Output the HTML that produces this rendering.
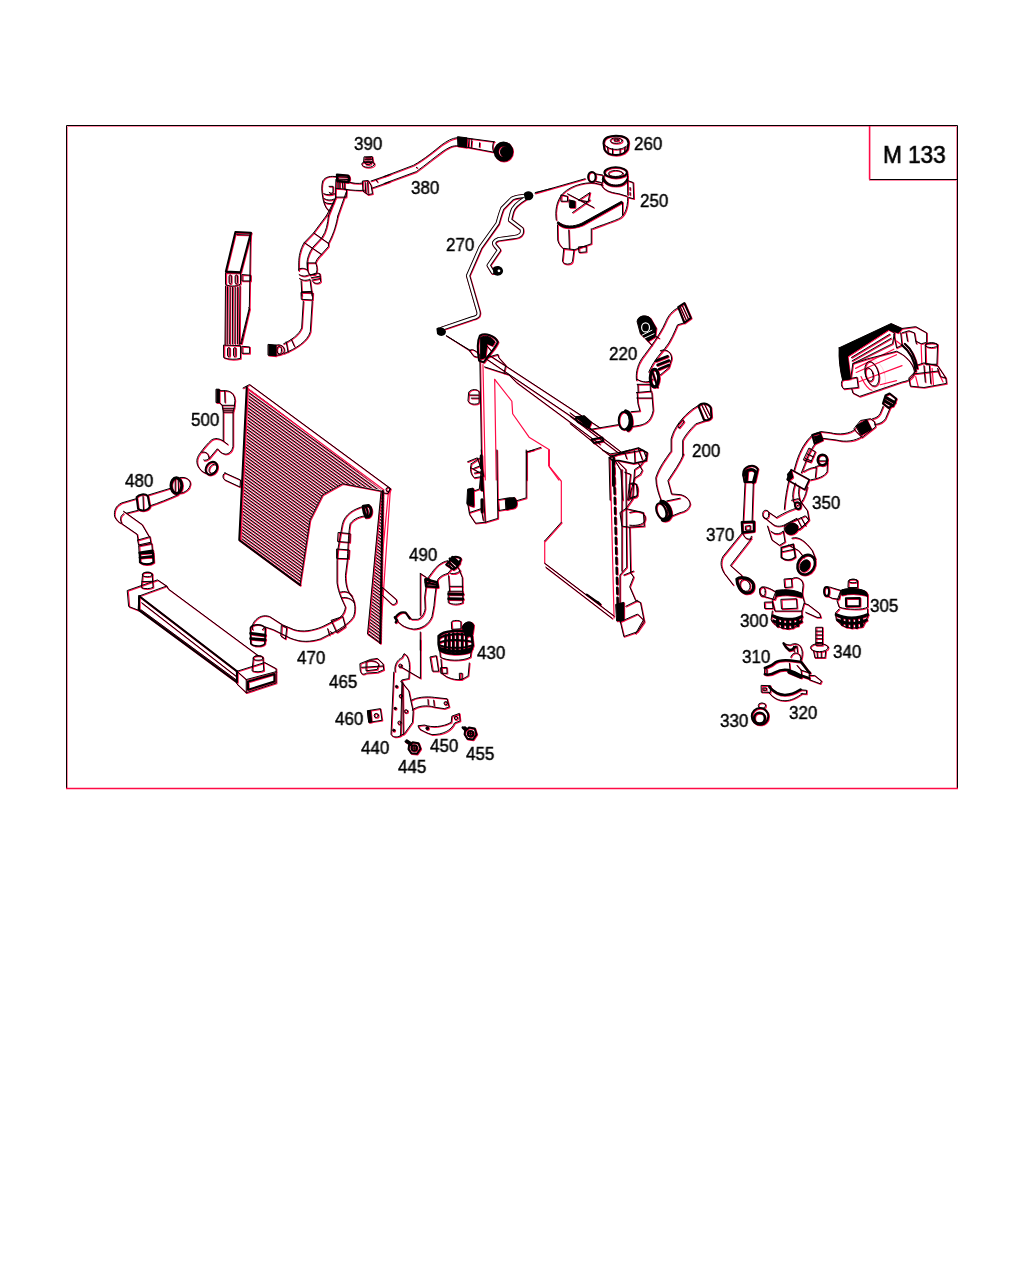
<!DOCTYPE html>
<html><head><meta charset="utf-8">
<style>
html,body{margin:0;padding:0;background:#fff;width:1024px;height:1280px;overflow:hidden}
svg{position:absolute;left:0;top:0}
.l{position:absolute;font-family:"Liberation Sans",sans-serif;font-size:17.5px;line-height:18px;color:#000;white-space:nowrap;transform:scaleX(0.97);transform-origin:0 0;-webkit-text-stroke:0.45px #000;will-change:transform}
#d path,#d ellipse,#d circle,#r path{vector-effect:non-scaling-stroke}
</style></head><body>
<svg width="1024" height="1280" viewBox="0 0 1024 1280">
<defs><pattern id="hp" patternUnits="userSpaceOnUse" width="2.55" height="2.55" patternTransform="rotate(36)">
<rect x="0" y="0" width="2.55" height="1.05" fill="#000"/><rect x="0" y="1.05" width="2.55" height="0.7" fill="#ff0a46"/></pattern>

<g id="d" fill="none" stroke-linejoin="round" stroke-linecap="round">

<!-- condenser (zoom origin 200,370 s=.25) -->
<g transform="translate(200,370) scale(0.25)">
<path d="M172,72 L198,58 L762,474 L752,494 L735,492"/>

<path d="M187,68 L157,680 L400,860" stroke-width="2"/>

<path d="M400,860 L440,600 L490,500 L570,455 L728,485"/>



<path d="M100,412 L162,440 L160,468 L100,440 C88,434 90,414 100,412Z"/>
<path d="M730,870 L785,918 C792,935 770,945 762,932 L728,900 Z"/>
</g>
<!-- condenser lower (zoom origin 232,504 s=.1875) -->
<g transform="translate(232,504) scale(0.1875)">


</g>
<!-- hose 500 (origin 190,376 s=.09765625) -->
<g transform="translate(190,376) scale(0.09765625)">
<path d="M270,135 L300,135 L300,272 L270,272Z" fill="#000"/>
<path d="M300,150 L360,150 C420,150 455,190 460,250 L455,300 L330,300 L300,272"/>
<path d="M355,150 L358,270"/>
<path d="M330,300 C330,330 340,345 340,370 L440,370 C445,345 455,330 455,300"/>
<path d="M335,330 L450,330 M340,350 L445,350"/>
<path d="M340,370 L340,665 C300,640 260,630 220,655 C180,690 140,740 110,780 C70,830 60,870 80,920 C100,960 130,985 160,995"/>
<path d="M440,370 L440,720 C430,770 400,800 360,800 C320,795 300,770 280,745 L200,840 C180,860 150,870 140,860"/>
<path d="M340,665 L385,700"/>
<path d="M120,780 C170,770 190,800 195,845"/>
<ellipse cx="220" cy="945" rx="55" ry="70" transform="rotate(35 220 945)" stroke-width="2"/>
<ellipse cx="235" cy="950" rx="35" ry="50" transform="rotate(35 235 950)"/>
</g>
<!-- hose 470 (origin 232,504 s=.1875) -->
<g transform="translate(232,504) scale(0.1875)">
<path d="M705,12 C650,25 600,55 588,110 L565,240 L560,300 L560,420 C568,480 592,520 605,550 C600,590 570,615 540,625 L480,655 C430,675 380,685 330,670 L270,645 L200,600 C170,590 140,600 120,625 C108,640 105,660 110,670"/>
<path d="M722,62 C680,65 650,78 630,105 C622,150 620,200 615,300 L605,380 C605,430 615,470 640,495 C658,525 660,570 648,600 C630,630 600,650 560,675 L470,720 C420,735 370,740 310,715 L220,670 L175,655 L162,670"/>
<path d="M700,12 L728,8 C745,20 748,55 728,68 L715,70 C705,50 700,30 700,12Z" stroke-width="3"/><path d="M712,15 C725,30 725,55 718,68" stroke-width="2"/>
<path d="M568,152 L630,158 L628,205 L565,200Z"/>
<path d="M560,240 L625,245 L622,292 L560,290Z"/>
<path d="M578,470 C600,462 630,470 640,490 M585,500 C610,495 640,505 650,525"/>
<path d="M530,620 L590,600 L605,655 L560,685Z"/>
<path d="M265,648 L292,660 L285,720 L262,705Z"/>
<path d="M98,660 C108,640 160,635 178,662 L175,745 C160,762 115,762 100,745 Z" stroke-width="1.5"/>
<path d="M100,690 L176,700 M100,718 L176,724" stroke-width="3"/>
<path d="M510,665 L520,700 M525,680 L535,690"/>
</g>

<!-- oil cooler (origin 210,220 s=.126953) -->
<g transform="translate(210,220) scale(0.126953)">
<path d="M200,95 L322,100 L240,412 L125,405 Z" stroke-width="2"/>
<path d="M210,115 L310,118"/>
<path d="M322,100 L318,180 L310,690 L240,975"/>
<path d="M305,690 L312,700 L248,975" />
<path d="M125,415 L240,418 L240,505 C200,525 160,525 125,510 Z"/>
<path d="M150,440 C150,430 168,430 168,440 L168,495 C168,505 150,505 150,495Z"/>
<path d="M198,440 C198,430 216,430 216,440 L216,495 C216,505 198,505 198,495Z"/>
<path d="M255,430 L320,435 L320,480 L255,480Z"/>
<path d="M122,520 L118,980 M138,525 L135,975 M158,530 L155,975 M178,530 L176,975 M198,530 L196,975 M218,528 L216,975 M236,520 L232,980"/>
<path d="M110,985 L240,990 L240,1090 C200,1100 150,1100 110,1085 Z"/>
<path d="M138,1012 C138,1002 156,1002 156,1012 L156,1068 C156,1078 138,1078 138,1068Z"/>
<path d="M185,1012 C185,1002 203,1002 203,1012 L203,1068 C203,1078 185,1078 185,1068Z"/>
<path d="M255,995 L312,1000 L312,1050 L255,1050Z"/>
</g>
<!-- hose 380 lower (origin 210,220 s=.126953) -->
<g transform="translate(210,220) scale(0.126953)">
<path d="M460,980 L520,985 L520,1070 L460,1065Z" fill="#000"/>
<path d="M520,985 C560,975 585,1000 585,1025 C585,1050 560,1065 520,1065"/>
<ellipse cx="545" cy="1025" rx="18" ry="30"/>
<path d="M580,975 C640,945 700,905 722,850 L735,640"/>
<path d="M582,1052 C680,1010 765,960 790,880 L805,640"/>
<path d="M640,940 L665,995 M600,960 L615,1040"/>
<path d="M720,570 L810,575 L808,630 L722,625Z"/>









</g>
<!-- hose 380 upper (origin 290,160 s=.09765625) -->
<g transform="translate(290,160) scale(0.09765625)">
<path d="M480,172 C420,160 360,170 335,215 C320,260 325,330 335,380 C345,450 370,500 400,520"/>
<path d="M345,345 C380,360 420,360 455,345 M348,395 C380,415 420,415 452,400 M352,430 C380,450 420,450 450,440"/>
<path d="M400,270 L440,270 L440,330 C430,345 410,345 400,330"/>
<path d="M470,200 L465,390 L400,520"/>
<path d="M482,150 L595,160 C610,180 605,210 595,225 L485,215 Z" stroke-width="2.5"/><path d="M490,170 L590,178 M488,195 L592,200"/>
<path d="M490,215 L490,290 M510,215 L510,290 M535,215 L540,290 M560,215 L560,295"/>
<path d="M470,290 L580,300 L575,380 L470,380"/>
<path d="M598,225 C650,240 700,245 745,235"/>
<path d="M560,300 C640,310 700,315 760,310"/>
<path d="M745,215 L800,210 L830,260 L845,345 L800,355 L750,320 Z"/>
<path d="M770,230 L775,330 M795,225 L800,340"/>
<path d="M830,215 L1024,148"/>
<path d="M835,290 L1024,222"/>
<path d="M880,200 L895,225"/>






</g>
<!-- hose 380 right (origin 384,128 s=.140625) -->
<g transform="translate(384,128) scale(0.140625)">
<path d="M0,345 L210,265 C290,220 360,160 410,120 C450,92 480,72 525,68"/>
<path d="M0,395 L230,310 C300,260 370,200 420,165 C460,140 490,120 530,128"/>
<path d="M525,62 L590,70 L585,138 L528,130Z" fill="#000"/>
<path d="M590,72 L785,98 M582,135 L780,172 M605,75 L600,138 M625,78 L620,140 M680,105 L678,135"/>
<path d="M780,98 C770,120 770,150 780,172"/>
<ellipse cx="850" cy="168" rx="52" ry="55" stroke-width="5"/><ellipse cx="858" cy="170" rx="30" ry="35" fill="#000"/>
<path d="M230,280 L235,282"/>
</g>
<!-- nut 390 (origin 340,130 s=.09765625) -->
<g transform="translate(340,130) scale(0.09765625)">
<path d="M250,275 L330,272 L338,330 L245,332 Z"/>
<ellipse cx="288" cy="350" rx="65" ry="32"/>
<path d="M255,300 L325,300 M265,285 L315,285"/>
<ellipse cx="288" cy="340" rx="30" ry="14"/>
</g>

<!-- hose 380 middle (origin 280,216 s=.078125) -->
<g transform="translate(280,216) scale(0.078125)">
<path d="M590,0 L430,215 L310,340 C260,420 240,520 240,600 L240,700"/>
<path d="M620,0 C610,100 590,200 540,270 L420,400 C370,470 350,540 345,600 L350,680"/>
<path d="M740,0 C720,100 700,200 620,350 L620,390 L530,490 C480,540 460,570 455,600"/>
<path d="M430,215 L620,350 M310,340 L530,490"/>
<path d="M355,600 L455,600 C480,650 480,720 450,750 L380,750 C350,720 345,650 355,600"/>
<path d="M385,760 C420,740 480,720 510,740 L520,840 C500,870 440,870 420,840"/>
<path d="M400,790 L512,770 M410,820 L515,800"/>
<path d="M240,680 C280,660 320,670 350,690 M245,750 C290,780 340,770 375,750 M250,800 C290,830 340,830 380,810"/>
<path d="M270,830 L280,1024 M385,820 L410,1024 M280,970 L410,965"/>
</g>
<g transform="translate(290,160) scale(0.09765625)">
<path d="M400,520 L370,573"/>
<path d="M470,380 L393,573 M575,330 L489,574"/>
</g>

<!-- cap 260 + reservoir 250 (origin 520,120 s=.125) -->
<g transform="translate(520,120) scale(0.125)">
<path d="M668,185 C668,140 720,125 768,125 C820,125 868,140 868,185 L860,235 C840,270 800,280 768,280 C730,280 690,270 675,235 Z" stroke-width="2"/>
<path d="M668,190 C690,225 740,235 768,235 C800,235 850,225 868,190"/>
<ellipse cx="770" cy="165" rx="48" ry="22"/>
<ellipse cx="770" cy="160" rx="20" ry="8"/>
<path d="M700,215 L705,265 M740,230 L740,275 M800,230 L800,275 M840,215 L835,265"/>
<ellipse cx="765" cy="420" rx="90" ry="42" stroke-width="2"/>
<ellipse cx="765" cy="428" rx="58" ry="24"/>
<path d="M665,450 C680,500 720,520 765,520 C810,520 850,500 862,450 L860,480 C840,520 810,530 765,530 C720,530 680,515 660,480 Z" fill="#000"/>
<path d="M675,440 L652,520 C665,560 720,580 790,590 L855,610"/>
<path d="M860,430 L862,600"/>
<path d="M862,485 L905,500 L910,630 L870,620 M880,540 L880,560 M880,580 L880,600"/>
<path d="M660,520 L620,510 C560,490 420,510 340,590 C290,650 280,730 290,800"/>
<path d="M300,830 C350,875 430,870 500,840 L820,660 L812,650 L495,825 C430,855 360,860 305,815 Z" fill="#000"/>
<path d="M300,840 L302,960 C310,1000 335,1020 350,1030"/>
<path d="M570,870 L570,990 L430,1040"/>
<path d="M580,870 C620,850 700,830 790,790 C830,770 862,720 862,620"/>
<path d="M820,660 L820,760"/>
<path d="M350,1030 L340,1130 C350,1160 410,1160 420,1130 L432,1040 Z"/>
<path d="M390,880 L395,1030"/>
<path d="M470,1015 L530,1010 L530,1055 L475,1060Z"/>
<ellipse cx="575" cy="455" rx="30" ry="40" stroke-width="2"/>
<path d="M600,430 L660,440 M605,490 L650,500"/>
<path d="M120,585 L520,470"/>
<path d="M470,640 L560,580 L545,650 Z M380,590 L590,700 M420,740 L560,640 M330,600 L380,610 L380,650 L330,650Z"/>
<path d="M395,640 L440,650 L440,700 L400,700Z" fill="#000"/>
</g>

<!-- main radiator upper (origin 440,320 s=.15625) -->
<g transform="translate(440,320) scale(0.15625)">
<path d="M310,222 L1024,690"/>
<path d="M300,252 L1024,742"/>
<path d="M285,300 L440,350 L490,400 L1024,795"/>
<path d="M255,250 L268,1024"/>



<path d="M555,1024 L555,845 L645,815"/>
<path d="M255,100 C290,80 350,100 370,140 C360,170 330,200 310,230 L280,270 L250,260 C240,200 240,130 255,100Z" stroke-width="2"/>
<path d="M262,110 C290,95 330,105 350,140 L335,165 L300,150 L290,240 L262,250 Z" fill="#000"/><path d="M300,165 L330,200 L300,235"/>
<path d="M190,195 C200,180 230,195 250,220 C255,240 230,240 215,230 Z"/>
<path d="M40,100 L190,195"/>
<path d="M300,240 L370,220 L375,240 L420,290 L410,340"/>
<path d="M185,460 C200,440 240,440 250,460 L250,530 C230,545 190,540 180,520 Z"/>
<path d="M190,480 L245,480 M200,500 L248,500"/>
<path d="M870,630 L920,615 L965,655 L950,690 L880,650 Z" stroke-width="2"/>
<path d="M200,920 L260,880 L280,1000 L220,1010 C195,990 190,950 200,920Z"/>
<path d="M215,950 L265,930 M220,980 L270,970"/>
</g>
<!-- main radiator lower (origin 450,450 s=.1953125) -->
<g transform="translate(450,450) scale(0.1953125)">
<path d="M160,0 L180,370 L245,350 L240,0"/>
<path d="M90,60 L140,40 L160,100 L150,200 L120,210 L90,270 L100,330 L130,375 L180,370"/><path d="M160,30 L165,360" stroke-width="3" stroke-dasharray="12 10"/>
<path d="M105,90 L160,120 M95,220 L120,200 L120,290 L90,280 Z M100,320 L160,300 L170,360" />
<path d="M92,200 L118,195 L122,285 L88,275Z" fill="#000"/>
<path d="M390,0 L390,245 L340,260 M390,10 L430,0"/>
<path d="M245,255 L300,245 C330,240 345,270 330,295 L250,310 Z"/>
<path d="M285,250 L330,243 C345,262 345,285 332,295 L288,305 Z" fill="#000"/>
<path d="M570,370 L485,465"/>
<path d="M485,580 L840,850 M490,600 L830,862"/>
<path d="M700,740 L770,790 M740,770 L760,780" stroke-width="2"/>

<path d="M838,40 L860,850" stroke-width="2.5" stroke-dasharray="6 4"/>
<path d="M820,30 L990,0 L1005,40 L975,80 L945,100 L935,250 L900,300 L990,320 L995,390 L920,395 L925,630 L940,650 L920,700 L950,770 L975,780 L995,880 L960,930 L890,955 L870,870 L855,850"/>
<path d="M860,60 L900,100 L905,600 L870,640 L870,850"/>
<path d="M880,100 L880,620"/>
<path d="M900,300 L870,320 L880,390 L920,395 M920,320 C960,305 1000,320 1000,350 C1000,380 960,390 920,385"/>
<path d="M925,170 C960,160 970,200 955,240 L920,250"/>
<path d="M850,790 L890,780 L890,870 L855,875Z" fill="#000"/>
<path d="M870,880 L960,840 L990,870 L950,940 M900,800 L960,770 M890,640 L940,620"/>
<path d="M780,0 L820,20 L880,10 L920,0"/>
</g>
<!-- main radiator top-right (origin 570,400 s=.09765625) -->
<g transform="translate(570,400) scale(0.09765625)">
<path d="M0,130 L520,530 L500,545 L0,165"/>
<path d="M0,240 L420,580"/>
<path d="M60,170 L120,165 L210,230 L200,265 L150,250 Z" fill="#000"/>
<path d="M220,405 L330,385 L340,420 L245,440 Z" stroke-width="2"/>
<path d="M400,600 L410,1024"/>
<path d="M442,620 L448,1024" stroke-width="3" stroke-dasharray="25 15"/>
<path d="M400,590 L430,580 L560,530 L700,490 L790,540 L780,620 L650,650 L500,620 L440,620 Z" stroke-width="1.5"/>
<path d="M560,540 L580,600 M660,520 L665,640 M700,500 L740,610"/>
<path d="M460,620 L520,720 L540,1024"/>
<path d="M700,650 L740,720 L720,760 L660,800 L600,1024"/>
<path d="M560,740 L620,760 L590,1024"/>
<path d="M610,860 L680,860 L690,980 L620,1000 Z"/>
</g>

<!-- hose 220 (origin 590,290 s=.13672) -->
<g transform="translate(590,290) scale(0.13672)">
<path d="M645,125 L690,95 L738,205 L690,240 Z" stroke-width="2"/>
<path d="M660,125 L705,225 M675,115 L720,215"/>
<path d="M645,130 C600,150 570,190 550,240 C510,330 440,420 380,500 C340,560 335,620 340,660"/>
<path d="M690,240 L640,255 C620,300 590,380 545,430 C500,480 460,530 430,600"/>






<path d="M340,650 C380,680 440,680 460,650 M345,690 L445,690 M350,690 L352,750 M440,690 L442,745 M340,750 L450,740 M342,790 L452,790"/>
<path d="M345,750 L350,830 L365,885 L300,890"/>
<path d="M452,750 L462,880 C452,940 420,980 360,990 L300,1000"/>
<ellipse cx="250" cy="955" rx="40" ry="65" stroke-width="2"/>
<path d="M262,888 C305,900 315,1000 278,1022" stroke-width="4"/><path d="M280,895 C310,920 312,990 290,1015" stroke-width="2"/>
<path d="M0,1020 L205,985"/>
</g>
<!-- hose 200 upper (origin 600,335 s=.13672) -->
<g transform="translate(600,335) scale(0.13672)">
<path d="M720,520 C740,490 790,495 810,530 L815,600 C805,620 780,630 760,620 Z" stroke-width="2"/>
<path d="M740,505 L790,610 M760,500 L805,590"/>
<path d="M720,515 L680,540 C600,600 540,680 520,760 L520,850"/>
<path d="M775,625 L700,650 C650,700 620,740 605,770 L605,880"/>
<path d="M570,660 L605,620 L615,635 L580,680 Z"/>
</g>
<!-- hose 200 lower (origin 630,440 s=.078125) -->
<g transform="translate(630,440) scale(0.078125)">
<path d="M520,150 C450,250 370,350 330,480 C330,600 370,700 400,780"/>
<path d="M685,180 C640,300 560,400 485,520 C500,580 520,640 530,690 L650,700 C720,720 760,760 770,820 C760,880 700,920 640,930 L520,980"/>
<path d="M470,780 L640,745"/>
<ellipse cx="400" cy="910" rx="58" ry="105" transform="rotate(-20 400 910)" stroke-width="2"/>
<path d="M400,790 C470,790 520,880 520,960 C500,1010 460,1030 420,1020" stroke-width="4"/>
<path d="M440,800 C480,850 490,920 470,1000"/>
</g>

<!-- top-right unit (origin 820,300 s=.13672) -->
<g transform="translate(820,300) scale(0.13672)">
<path d="M140,350 L520,172 L600,208 L570,240 L500,215 L200,410 L222,578 L165,585 C148,520 135,430 140,350 Z" fill="#000"/>
<path d="M200,410 L500,215 L545,240 L530,320 L240,465 L226,565"/>
<path d="M230,420 L510,250 M235,445 L520,280"/>
<path d="M600,208 L700,195 L780,240 L780,310 L740,320 L700,300 L690,240 L650,225 L600,240"/>
<path d="M540,250 L560,350 L600,330 L590,240 M630,240 L640,300 M700,300 L705,320"/>
<path d="M240,465 L350,430 L560,375 C620,400 680,460 690,520 C690,560 660,590 600,600 L290,705 L240,680 L232,650"/>
<ellipse cx="380" cy="540" rx="48" ry="92" transform="rotate(-15 380 540)"/>
<ellipse cx="360" cy="545" rx="28" ry="50" transform="rotate(-15 360 545)"/>
<path d="M600,330 C650,370 690,440 700,520 M620,320 C670,360 700,430 712,500" stroke-width="2"/>
<path d="M165,585 L270,565 L280,640 L175,650 C155,640 150,600 165,585 Z"/>
<path d="M770,330 C770,310 860,310 860,330 L855,470 L775,470 Z"/>
<ellipse cx="815" cy="330" rx="45" ry="18"/>
<path d="M700,480 L760,460 L860,480 L920,570 L925,610 L760,640 L660,630 L650,570 L700,520"/>
<path d="M760,480 L770,600 M800,480 L810,610 M690,540 L860,520"/>
<path d="M860,500 L880,560 L920,570"/>
<path d="M1005,0 L1005,1024" stroke="none"/>
</g>

<!-- hose 350 (origin 750,390 s=.15625) -->
<g transform="translate(750,390) scale(0.15625)">

























</g>

<!-- hose 370 (origin 700,455 s=.126953) -->
<g transform="translate(700,455) scale(0.126953)">
<path d="M340,150 C340,90 420,60 455,110 L432,212 L350,212 Z" stroke-width="2"/>
<path d="M345,160 C360,110 420,100 440,140 L420,215 M370,130 L365,200" stroke-width="3"/>
<path d="M355,212 L340,530 M420,212 L410,530"/>
<path d="M330,530 L425,525 L425,600 L335,610 Z" stroke-width="2.5"/>
<path d="M360,560 L395,555 L395,590 L362,592 Z"/>
<path d="M335,610 L180,800 C160,840 160,880 190,930 L262,1024"/>
<path d="M405,640 L395,670 L240,870 L330,950"/>
<path d="M335,612 C345,650 370,670 405,660"/>
</g>
<!-- hose 370 lower + pump 300 + bolt 340 + bracket 310 (origin 700,560 s=.126953) -->
<g transform="translate(700,560) scale(0.126953)">
<path d="M290,150 C320,125 400,140 420,190 C430,240 400,265 360,260 C320,250 290,200 290,150 Z" stroke-width="3"/>
<ellipse cx="355" cy="200" rx="38" ry="48" transform="rotate(-25 355 200)"/>
<path d="M470,230 C480,200 520,210 560,230 L610,260 L590,312 L520,292 C480,282 465,262 470,230 Z"/>
<ellipse cx="492" cy="250" rx="22" ry="36"/>
<path d="M665,150 L720,145 L725,212 L670,217 Z"/>
<path d="M720,150 C760,120 812,150 812,200 L802,290"/>
<path d="M600,250 L802,262 L822,332 L802,402 L590,402 L570,322 Z"/>
<path d="M600,240 C680,225 760,240 800,262 L800,295 C740,275 660,270 600,285 Z" fill="#000"/>
<path d="M640,310 L760,305 L765,380 L645,385 Z"/>
<path d="M510,332 L570,330 L575,382 L512,382 Z"/>
<path d="M822,342 L852,352 L940,420 L952,452 L922,452 L832,412"/>
<path d="M570,402 L560,472 C580,512 640,542 700,542 C760,532 792,502 802,462 L802,402"/>
<path d="M575,440 C640,475 750,475 800,445" stroke-width="3"/><path d="M580,480 C640,515 750,515 798,485" stroke-width="3"/><path d="M610,470 L612,520 M650,478 L650,530 M690,480 L690,535 M730,478 L730,530 M770,470 L770,515" stroke-width="3"/>
<path d="M915,530 L965,530 L965,672 L915,672 Z"/>
<path d="M915,560 L965,560 M915,590 L965,590 M915,620 L965,620 M915,650 L965,650"/>
<ellipse cx="940" cy="690" rx="70" ry="32"/>
<path d="M895,720 L905,770 L985,770 L990,720 M922,722 L925,768 M955,722 L955,768"/>
</g>
<!-- pump 305 (origin 800,560 s=.09765625) -->
<g transform="translate(800,560) scale(0.09765625)">
<path d="M495,215 C500,190 580,190 590,215 L590,282 L495,282 Z"/>
<ellipse cx="542" cy="215" rx="45" ry="18"/>
<path d="M250,300 C260,270 290,270 330,285 L420,312 L400,402 L330,392 L270,362 C240,342 240,322 250,300 Z"/>
<ellipse cx="272" cy="322" rx="25" ry="46" stroke-width="2"/>
<path d="M420,312 C450,290 600,280 670,320 L692,352 L692,482 C650,512 480,512 400,482 L380,422 Z"/>
<path d="M430,305 C500,285 620,290 680,330 L690,370 C620,340 500,340 430,360 Z" fill="#000"/>
<path d="M470,392 L612,390 L612,472 L472,474 Z" stroke-width="2"/>
<path d="M400,502 L362,542 L372,612 L422,662 C472,702 562,702 642,682 L692,582 L692,502"/>
<path d="M370,560 C455,605 600,605 692,560" stroke-width="3"/><path d="M385,615 C455,660 600,660 680,615" stroke-width="3"/><path d="M430,600 L432,660 M480,610 L480,680 M530,612 L530,690 M580,612 L580,690 M630,605 L630,675" stroke-width="3"/>
</g>
<!-- bracket 310, clamp 320, nut 330 (origin 740,640 s=.09765625) -->
<g transform="translate(740,640) scale(0.09765625)">







<path d="M220,465 L312,468 L310,537 L222,535 Z"/>
<path d="M240,490 L270,490 L270,515 L240,515 Z"/>
<path d="M300,480 C350,540 400,562 460,562 C520,562 580,532 620,507" stroke-width="2.5"/>
<path d="M290,532 C340,600 400,622 460,622 C520,622 580,592 640,547"/>
<path d="M620,510 L682,515 L680,552 L625,550"/>
<circle cx="205" cy="782" r="85" stroke-width="2"/>
<circle cx="200" cy="800" r="55" stroke-width="2.5"/>
<ellipse cx="225" cy="672" rx="38" ry="28"/>
</g>

<!-- hose 480 (origin 100,460 s=.09765625) -->
<g transform="translate(100,460) scale(0.09765625)">
<ellipse cx="782" cy="262" rx="55" ry="80" stroke-width="3"/>
<path d="M770,190 L770,330 M800,190 L805,335"/>
<path d="M820,180 C880,170 925,200 925,245 C920,300 870,335 820,340"/>
<path d="M720,290 L490,360 M375,395 L220,440 C160,470 140,520 150,580 C170,620 190,640 220,650 L380,760 L390,820"/>
<path d="M800,355 C700,400 600,440 510,470 M390,515 L270,545 L240,525 M270,545 L430,660 L500,780"/>
<path d="M375,380 C400,350 460,340 490,370 L510,480 C490,520 420,530 390,500 Z" stroke-width="2"/>
<path d="M440,370 L445,510"/>
<path d="M220,640 C200,600 210,570 240,550"/>
<path d="M385,820 L510,785 M395,870 L520,842 M385,820 L395,870 M510,785 L520,842"/><path d="M400,880 L530,855 L545,1040 C520,1070 440,1075 410,1050 Z"/><path d="M405,950 L538,930 M408,1000 L542,985" stroke-width="2.5"/>
</g>
<!-- long cooler (origin 110,550 s=.17578) -->
<g transform="translate(110,550) scale(0.17578)">
<path d="M100,230 L270,170 L322,205 L165,262 L160,342 L108,322 Z"/>
<path d="M322,205 L332,222 L842,600"/>
<path d="M165,262 L722,690"/>
<path d="M165,270 L165,342 L722,752 L722,690" stroke-width="2"/><path d="M165,262 L722,690" stroke-width="2"/>
<path d="M180,300 L722,722 M176,340 L722,742"/>
<path d="M722,690 L880,640 L945,675 L945,757 L775,812 L722,762 Z"/>
<path d="M775,737 L945,692 M722,690 L775,737 L775,812"/><path d="M785,748 L935,705 L935,748 L785,795 Z" stroke-width="2"/>
<path d="M185,140 C185,120 240,120 240,140 L245,212 C230,222 195,222 180,215 Z"/>
<ellipse cx="212" cy="140" rx="28" ry="12"/>
<path d="M182,180 L243,178"/>
<path d="M815,615 C815,595 870,595 870,615 L875,685 C860,695 825,695 810,688 Z"/>
<ellipse cx="842" cy="615" rx="28" ry="12"/>
<path d="M170,20 L245,15 L248,70 C230,85 190,85 170,70 Z" stroke-width="2"/>
<path d="M172,45 L246,42"/>
</g>
<!-- hose 490 (origin 390,550 s=.09765625) -->
<g transform="translate(390,550) scale(0.09765625)">
<path d="M310,240 L310,670 M310,240 L370,280 M310,840 L310,1024"/>
<path d="M590,110 C530,120 470,170 430,230 L385,290"/>
<path d="M370,370 L355,480 L360,600 C350,660 320,700 280,710 L220,710 C180,660 150,620 100,650 L50,690 C80,750 150,800 240,810 C320,810 400,760 430,680 L450,570 L460,470 L472,380"/>
<path d="M590,240 C560,250 520,260 490,300 L475,380"/>
<path d="M362,300 L480,330 L490,380 L370,372 Z" stroke-width="2.5"/><path d="M365,335 L485,355" stroke-width="2"/><ellipse cx="385" cy="320" rx="20" ry="25" stroke-width="2"/>
<path d="M55,690 C80,650 120,630 160,640 L200,700" stroke-width="2"/><path d="M50,690 L70,720 L60,740" stroke-width="2.5"/>
<path d="M575,150 L640,80 C665,60 720,70 725,95 L690,170 L650,200 Z" stroke-width="2"/><path d="M615,90 L685,150 M640,75 L708,135" stroke-width="3"/><path d="M600,120 L665,185" stroke-width="2"/>
<path d="M595,115 L625,200 L590,242 M700,182 L740,282 L742,422 M600,262 L610,422"/>
<path d="M620,240 C660,250 700,230 720,210 M612,372 L742,372"/>
<path d="M600,422 L745,422 L745,540 C700,560 640,560 600,540 Z"/>
<path d="M602,450 L745,452 M602,500 L745,502" stroke-width="3"/>
</g>
<!-- pump 430 (origin 380,610 s=.1171875) -->
<g transform="translate(380,610) scale(0.1171875)">
<path d="M610,100 C615,85 685,85 690,100 L690,160 L615,165 Z"/>
<path d="M700,150 C710,100 780,80 800,130 L790,200 L740,232 Z" fill="#000"/>
<path d="M500,222 C540,172 700,162 780,202 L792,302 L772,352 C700,382 560,382 510,342 L500,292 Z" stroke-width="2.5"/>
<path d="M505,240 C560,200 700,195 785,225 M502,280 C560,250 700,250 788,270 M505,300 C580,330 720,330 790,300" stroke-width="2"/>
<path d="M560,215 L555,350 M590,205 L590,360 M625,200 L625,370 M660,200 L660,370 M700,205 L700,365 M735,210 L738,355" stroke-width="2.5"/>
<path d="M520,330 C600,360 720,360 780,330" stroke-width="3"/>
<path d="M510,352 L515,402 C560,432 700,442 772,402 L777,352"/>
<path d="M520,422 L530,542 C570,582 650,602 700,592 L752,562 L762,452"/>
<path d="M430,400 L480,390 L500,522 L450,522 Z"/>
<path d="M520,492 L570,490 L572,540 L522,540 Z M680,540 L700,540 L700,590 L682,592Z"/>
</g>
<!-- bracket 440, clamps 450, bolts, nut 460, clip 465 (origin 350,640 s=.13672) -->
<g transform="translate(350,640) scale(0.13672)">
<path d="M330,232 C320,180 350,140 380,130 L395,100 C420,110 435,150 435,200 L430,282 L380,292 L370,302"/>
<circle cx="368" cy="188" r="12"/>
<path d="M370,195 L515,280 L515,0"/>
<path d="M320,235 L300,690 C310,710 340,715 370,700 L380,300"/>
<circle cx="340" cy="340" r="8" fill="#000"/><circle cx="330" cy="500" r="8" fill="#000"/><circle cx="320" cy="660" r="8" fill="#000"/>
<path d="M380,310 L430,372 L440,422 L462,522 L457,602 L400,682 L365,702"/>
<path d="M386,312 L390,690"/>
<circle cx="372" cy="410" r="12"/><circle cx="410" cy="522" r="12"/><circle cx="362" cy="605" r="12"/>
<path d="M450,440 C480,420 560,410 620,420 L710,430 L725,490 L690,502 L620,492 C560,472 490,482 455,512"/>
<path d="M570,435 L572,472 M612,440 L616,482"/>
<circle cx="700" cy="462" r="12"/>
<path d="M500,627 L545,622 C600,642 680,637 740,602 L745,557 L800,537 L805,592 L765,607 C740,662 680,692 600,692 C560,682 530,662 510,652 Z"/>
<circle cx="565" cy="645" r="10" fill="#000"/><circle cx="775" cy="570" r="12"/>
<path d="M825,640 L862,655"/>
<path d="M842,665 L870,640 L912,648 L925,690 L900,728 L858,722 L838,690 Z" stroke-width="2"/>
<path d="M850,650 L840,640 M825,640 L845,660" stroke-width="2.5"/>
<circle cx="882" cy="685" r="20" stroke-width="2"/><path d="M870,685 L895,685 M882,672 L882,698"/>
<path d="M408,742 L445,765 M415,735 L448,758" stroke-width="2.5"/>
<path d="M432,770 L458,748 L500,755 L515,795 L490,832 L448,828 L428,798 Z" stroke-width="2"/>
<circle cx="470" cy="790" r="20" stroke-width="2"/><path d="M458,790 L482,790 M470,778 L470,802"/>
<path d="M130,517 L222,502 L234,587 L140,602 Z"/>
<path d="M130,517 L150,515 L158,600 L140,602 Z" fill="#000"/>
<circle cx="192" cy="552" r="15"/>
<path d="M75,172 L150,142 L200,135 L242,175 L247,217 L200,237 L120,242 C95,257 80,252 75,222 Z"/>
<path d="M120,160 C140,145 200,150 210,180 L200,215 L120,225 Z M85,200 L240,190"/>
</g>

<!-- hose 350 upper (origin 780,380 s=.1171875) -->
<g transform="translate(780,380) scale(0.1171875)">
<path d="M900,132 L935,115 L992,160 L968,215 L928,238 L878,200 Z" stroke-width="2"/>
<path d="M905,150 L978,192 M892,178 L962,218" stroke-width="3"/>
<path d="M880,225 L855,285 C840,310 820,325 790,330"/>
<path d="M940,238 L900,330 C880,360 850,375 810,380"/>
<path d="M690,345 L772,330 L805,355 L815,400 L700,490 L650,440 L632,420 Z"/>
<path d="M650,390 L740,340 L780,420 L690,470 Z" fill="#000"/>
<path d="M640,420 C600,460 500,470 430,450 L350,440 L290,460"/>
<path d="M700,482 C640,522 560,532 480,512 L360,497 L300,532"/>
<path d="M275,470 L340,450 L362,512 L295,542 Z" stroke-width="2"/>
<path d="M290,485 L345,470 L352,505 L300,520 Z" fill="#000"/>
<path d="M275,470 C220,520 170,600 140,700 L120,770"/>
<path d="M300,542 C270,582 240,642 210,722 L182,792"/>
<path d="M250,582 L302,612 L262,702 L202,682 Z M230,630 L285,655 M215,670 L270,690"/>
<ellipse cx="362" cy="682" rx="40" ry="45" stroke-width="2.5"/>
<path d="M330,690 L400,690"/>
<path d="M300,742 C340,722 390,722 405,705 L402,782 C382,822 322,842 262,852"/>
<path d="M200,782 C250,752 290,742 310,747 L302,832"/>
<path d="M95,765 L250,850 L210,935 L60,850 Z" stroke-width="1.5"/>
<path d="M65,800 L95,770 L110,830 L78,855 Z" fill="#000"/>

</g>

<!-- hose 350 lower junction (origin 740,380 s=.171858) -->
<g transform="translate(740,380) scale(0.171858)">
<path d="M290,560 C275,620 262,690 258,752"/>
<path d="M322,600 C305,650 300,690 318,722"/>
<path d="M345,622 C335,662 345,702 362,722"/>
<path d="M392,622 C380,680 362,718 332,732"/>
<path d="M300,700 L340,690 L392,760 L402,815 L345,870"/>
<path d="M320,715 C340,705 360,720 350,745 C335,760 315,745 320,715 Z" stroke-width="2"/>
<ellipse cx="150" cy="782" rx="18" ry="24"/>
<path d="M135,795 L185,835 M168,770 L212,800"/>
<path d="M212,800 C260,770 300,755 330,745"/>
<path d="M185,835 C200,850 230,860 265,840 L330,805"/>
<path d="M160,850 L185,930 L230,962 L262,942 L252,880"/>
<path d="M180,880 C200,900 230,900 250,880"/>
<path d="M262,845 C280,830 330,815 380,790 L400,815 C380,850 330,880 285,895 C260,890 250,865 262,845 Z"/>
<ellipse cx="300" cy="865" rx="38" ry="32" transform="rotate(-25 300 865)" fill="#000"/>
<path d="M335,812 L360,860 M355,800 L382,848"/>
<path d="M240,975 L310,955 L322,1030 C300,1052 260,1052 240,1032 Z" stroke-width="1.5"/>
<path d="M242,1000 L315,985"/>
<path d="M302,920 C345,905 385,945 420,992 L440,1042"/>
<path d="M282,960 L340,992 L372,1032"/>
<ellipse cx="385" cy="1075" rx="48" ry="60" transform="rotate(30 385 1075)" stroke-width="2.5"/>
<ellipse cx="378" cy="1080" rx="26" ry="36" transform="rotate(30 378 1080)" fill="#000"/>
</g>
<g>
<path d="M381,492 L367.5,634 L380,643"/>
<path d="M382.8,491 L380.2,643" stroke-width="2.2" stroke-dasharray="2 1"/>
<circle cx="388" cy="489.5" r="2"/>
</g>

<!-- bracket 310 (origin 760,640 s=.06836) -->
<g transform="translate(760,640) scale(0.06836)">
<path d="M345,50 C380,60 420,80 450,70 C480,50 540,45 580,80 C620,130 625,200 610,260 L600,300"/>
<path d="M345,50 L380,105 L430,150 L470,140 C500,110 510,100 520,100" stroke-width="2.5"/>
<path d="M450,250 C470,190 520,180 560,200 C590,220 600,260 590,300"/>
<path d="M490,90 L500,170 M540,90 L550,180"/>
<path d="M70,410 C120,390 170,380 220,330 C260,300 330,290 450,300 L600,320 L700,450 L730,480" stroke-width="2.5"/>
<path d="M70,500 C130,520 180,500 230,470 C280,440 350,430 420,440 L500,470 L600,520 L720,560" stroke-width="2.5"/>
<path d="M70,410 L65,500 M100,430 L100,490"/>
<path d="M430,340 L440,460 M540,370 L600,440 L720,480 L720,550 M600,440 L610,520"/>
<path d="M420,470 L600,545" stroke-width="3"/>
<path d="M720,520 L800,520 L900,600 L880,640 L720,580"/>
</g>

<!-- hose 220 connectors (origin 590,300 s=.14066) -->
<g transform="translate(590,300) scale(0.14066)">
<path d="M335,150 C340,110 400,100 430,130 L470,200 L462,262 L412,292 L360,242 Z" fill="#000"/>
<ellipse cx="395" cy="195" rx="28" ry="32" stroke="#fff" stroke-width="1.2"/>
<path d="M370,250 L440,215 M385,272 L455,240" stroke="#fff" stroke-width="1"/>
<path d="M405,285 L440,322 M462,255 L492,272"/>
<path d="M500,360 C550,340 582,380 580,420 L560,482 L500,532"/>
<path d="M470,432 L552,400 M480,462 L562,430 M490,492 L562,462" stroke-width="2.5"/>
<ellipse cx="458" cy="555" rx="30" ry="62" stroke-width="3"/>
<path d="M440,500 L480,620 M470,495 L490,560" stroke-width="2"/>
</g>
<!-- frame -->

</g>
<g id="r" fill="none" stroke-linejoin="round" stroke-linecap="round"><g transform="translate(820,300) scale(0.13672)">
<path d="M260,500 L540,360 M265,530 L560,400 M280,600 L600,480"/>
<ellipse cx="410" cy="555" rx="65" ry="115" transform="rotate(-15 410 555)"/>
<path d="M560,300 C600,330 640,360 660,400 M740,330 L745,470 M700,560 L720,640 M820,500 L830,620 M860,520 L900,600"/>
<path d="M300,560 C320,600 340,650 380,660 M440,620 L560,590"/>
</g>
<g>
<path d="M390.4,489 L380,643"/><path d="M248.3,389 L241,540"/><path d="M388.5,491 L382,560"/><path d="M247,388 L384,490"/>
</g>

<g transform="translate(440,320) scale(0.15625)">
<path d="M275,285 L290,1024"/><path d="M350,380 L360,1024"/><path d="M350,380 L460,520 L465,600 L570,750 L700,830 L700,940 L760,1024"/>
</g>
<g transform="translate(450,450) scale(0.1953125)">
<path d="M505,0 L505,80 L570,160 L570,370 M485,465 L485,580"/><path d="M820,40 L840,860"/>
</g>
</g>
</defs>
<polygon points="249,388 382,490 342.5,483.8 322.5,495.0 310.0,520.0 300.0,585.0 241.5,541 " fill="url(#hp)"/>
<polygon points="381,492 382.8,491 380.2,643 367.5,634" fill="url(#hp)"/>
<use href="#r" stroke="#ff0a46" stroke-width="1.2" style="vector-effect:non-scaling-stroke"/>
<use href="#d" stroke="#ff0a46" stroke-width="1.25" transform="translate(0.7,0.7)"/>
<use href="#d" stroke="#000" stroke-width="1.0"/>

<g transform="translate(424,176) scale(0.1375)" fill="none" stroke-linejoin="round" stroke-linecap="round">
<g id="p270">
<path d="M760,140 C700,150 660,150 640,165 L570,235 C555,270 545,310 535,345 L410,520 L320,725 L395,985 C405,1020 380,1030 350,1035 L130,1110"/>
<path d="M740,160 C690,190 650,220 640,260 L625,320 L710,385 C720,420 700,440 650,445 L540,460 C510,470 500,490 520,510 L545,540 L470,650 L500,700"/>
</g>
<use href="#p270" stroke="#ff0a46" stroke-width="34" transform="translate(3,3)"/>
<use href="#p270" stroke="#000" stroke-width="30"/>
<use href="#p270" stroke="#fff" stroke-width="17"/>
<path d="M725,130 C740,100 790,105 795,140 C795,175 760,185 735,170 Z" fill="#000"/>
<path d="M500,670 C520,645 570,650 575,690 C575,725 530,735 505,715 Z" fill="#000"/><circle cx="545" cy="690" r="10" fill="#fff"/>
<path d="M90,1110 C110,1090 150,1100 160,1130 C160,1165 120,1175 95,1150 Z" fill="#000"/>
<path d="M810,120 L931,90 M165,1165 L340,1270" stroke="#000" stroke-width="7"/>
</g>
<g fill="none">
<path d="M67.5 788V126.5H956.5V788M869 180.5H957" stroke="#ff8aa6" stroke-width="1"/>
<path d="M66.5 789V125.5H957.5V789M869.5 179.5H957" stroke="#000" stroke-width="1"/>
<path d="M869.6 126V179.5" stroke="#ff0a46" stroke-width="1.6"/>
<path d="M66 788.5H958" stroke="#ff0a46" stroke-width="1.3"/>
</g>
</svg>
<div class="l" style="left:883px;top:143px;font-size:24.5px;line-height:24px;transform:scaleX(0.92);-webkit-text-stroke:0.7px #000">M 133</div>
<div class="l" style="left:354px;top:135px">390</div>
<div class="l" style="left:411px;top:179px">380</div>
<div class="l" style="left:634px;top:135px">260</div>
<div class="l" style="left:640px;top:192px">250</div>
<div class="l" style="left:446px;top:236px">270</div>
<div class="l" style="left:609px;top:345px">220</div>
<div class="l" style="left:692px;top:442px">200</div>
<div class="l" style="left:191px;top:411px">500</div>
<div class="l" style="left:125px;top:472px">480</div>
<div class="l" style="left:812px;top:494px">350</div>
<div class="l" style="left:706px;top:526px">370</div>
<div class="l" style="left:870px;top:597px">305</div>
<div class="l" style="left:740px;top:612px">300</div>
<div class="l" style="left:833px;top:643px">340</div>
<div class="l" style="left:742px;top:648px">310</div>
<div class="l" style="left:789px;top:704px">320</div>
<div class="l" style="left:720px;top:712px">330</div>
<div class="l" style="left:409px;top:546px">490</div>
<div class="l" style="left:297px;top:649px">470</div>
<div class="l" style="left:477px;top:644px">430</div>
<div class="l" style="left:329px;top:673px">465</div>
<div class="l" style="left:335px;top:710px">460</div>
<div class="l" style="left:361px;top:739px">440</div>
<div class="l" style="left:430px;top:737px">450</div>
<div class="l" style="left:466px;top:745px">455</div>
<div class="l" style="left:398px;top:758px">445</div>
</body></html>
